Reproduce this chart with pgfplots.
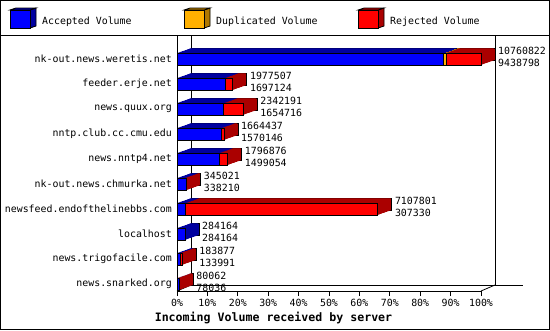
\documentclass[border=0pt]{standalone}
\usepackage{pgfplots}
\pgfplotsset{compat=1.18}
\usepackage{pgfplotstable}
\usepackage{fontspec}
\setmainfont{DejaVu Sans Mono}
\definecolor{fblue}{RGB}{0,0,255}
\definecolor{dblue}{RGB}{0,0,160}
\definecolor{fred}{RGB}{255,0,0}
\definecolor{dred}{RGB}{170,0,0}
\definecolor{forange}{RGB}{255,176,0}
\definecolor{dorange}{RGB}{176,120,0}

\pgfplotstableread{
y total acc accdup
10 10760822 9438798 9520000
9 1977507 1697124 1697124
8 2342191 1654716 1654716
7 1664437 1570146 1570146
6 1796876 1499054 1499054
5 345021 338210 338210
4 7107801 307330 307330
3 284164 284164 284164
2 183877 133991 133991
1 80062 78036 78036
}\datatable

\newcommand{\lbl}{\fontsize{9.9bp}{11.5bp}\selectfont}
% depth copies: the last segment keeps at least 2px so that it forms the side face
\newcommand{\capacc}{(\thisrow{acc}<\thisrow{total} ? min(\thisrow{acc},\thisrow{total}-71000) : \thisrow{acc})}
\newcommand{\capdup}{(\thisrow{accdup}<\thisrow{total} ? min(\thisrow{accdup},\thisrow{total}-71000) : \thisrow{accdup})}

\pgfplotsset{
  geom/.style={anchor=south west, scale only axis,
    width=304bp, height=255bp, xmin=0, xmax=100, ymin=0.72, ymax=10.92,
    clip=false, bar width=12bp},
  base/.style={geom, xbar stacked},
  copyaxis/.style={base, hide axis, at={(177bp+#1bp, -291bp+#1*5bp/14)}},
}

\begin{document}
\begin{tikzpicture}[x=1bp,y=1bp]
\useasboundingbox (0,0) rectangle (550,-330);
\draw[line width=1bp] (0.5,-0.5) rectangle (549.5,-329.5);
\draw[line width=1bp] (0,-35) -- (550,-35);
% legend
\foreach \xo/\cf/\cd/\txt in {10/fblue/dblue/Accepted Volume,184/forange/dorange/Duplicated Volume,358/fred/dred/Rejected Volume}{
  \filldraw[fill=\cd,draw=black,line width=0.8bp] (\xo+20,-10)--(\xo+26,-8)--(\xo+26,-26)--(\xo+20,-28)--cycle;
  \filldraw[fill=\cd,draw=black,line width=0.8bp] (\xo,-10)--(\xo+6,-8)--(\xo+26,-8)--(\xo+20,-10)--cycle;
  \filldraw[fill=\cf,draw=black,line width=0.8bp] (\xo,-10) rectangle (\xo+20,-28);
  \node[anchor=base west,inner sep=0pt,font=\lbl] at (\xo+32,-24) {\txt};
}
% back wall and floor
\begin{scope}[line width=0.8bp]
\draw (191,-36) -- (191,-285);
\draw (495,-36) -- (495,-285);
\draw (191,-285) -- (523,-285);
\draw (481,-291) -- (495,-285);
\draw (177,-291) -- (191,-285);
\end{scope}
% back-most copy with outline
\begin{axis}[copyaxis=14]
\addplot[fill=dblue, draw=black, line width=0.8bp] table[x expr=\capacc/107608.22, y=y]{\datatable};
\addplot[fill=dorange, draw=none] table[x expr=(\capdup-\capacc)/107608.22, y=y]{\datatable};
\addplot[fill=dred, draw=black, line width=0.8bp] table[x expr=(\thisrow{total}-\capdup)/107608.22, y=y]{\datatable};
\end{axis}
\pgfplotsinvokeforeach{13,12,...,1}{
\begin{axis}[copyaxis=#1]
\addplot[fill=dblue, draw=none] table[x expr=\capacc/107608.22, y=y]{\datatable};
\addplot[fill=dorange, draw=none] table[x expr=(\capdup-\capacc)/107608.22, y=y]{\datatable};
\addplot[fill=dred, draw=none] table[x expr=(\thisrow{total}-\capdup)/107608.22, y=y]{\datatable};
\end{axis}
}
% front faces, axes and labels
\begin{axis}[base, at={(177bp,-291bp)},
  axis x line*=bottom, axis y line*=left,
  axis line style={-, line width=0.8bp},
  xtick={0,10,...,100},
  xticklabels={0\%,10\%,20\%,30\%,40\%,50\%,60\%,70\%,80\%,90\%,100\%},
  ytick={1,...,10},
  yticklabels={news.snarked.org,news.trigofacile.com,localhost,newsfeed.endofthelinebbs.com,nk-out.news.chmurka.net,news.nntp4.net,nntp.club.cc.cmu.edu,news.quux.org,feeder.erje.net,nk-out.news.weretis.net},
  tick align=outside, major tick length=5bp,
  xtick style={line width=0.8bp, black},
  ytick style={draw=none},
  ticklabel style={font=\lbl},
  yticklabel style={inner sep=0pt},
]
\addplot[fill=fblue, draw=black, line width=0.8bp] table[x expr=\thisrow{acc}/107608.22, y=y]{\datatable};
\addplot[fill=forange, draw=black, line width=0.8bp] table[x expr=(\thisrow{accdup}-\thisrow{acc})/107608.22, y=y]{\datatable};
\addplot[fill=fred, draw=black, line width=0.8bp] table[x expr=(\thisrow{total}-\thisrow{accdup})/107608.22, y=y]{\datatable};
\end{axis}
% value labels
\begin{axis}[geom, hide axis, at={(177bp,-291bp)}]
\addplot[xbar, bar shift=0pt, fill=none, draw=none,
  point meta=explicit symbolic, nodes near coords,
  every node near coord/.append style={anchor=west, inner sep=0pt, xshift=17bp, yshift=8bp, font=\lbl, text=black, fill=none, draw=none}]
  table[x expr=\thisrow{total}/107608.22, y=y, meta=total]{\datatable};
\addplot[xbar, bar shift=0pt, fill=none, draw=none,
  point meta=explicit symbolic, nodes near coords,
  every node near coord/.append style={anchor=west, inner sep=0pt, xshift=17bp, yshift=-3.5bp, font=\lbl, text=black, fill=none, draw=none}]
  table[x expr=\thisrow{total}/107608.22, y=y, meta=acc]{\datatable};
\end{axis}
\node[anchor=base,inner sep=0pt,font=\fontsize{11.6bp}{13bp}\selectfont\bfseries] at (273.5,-321) {Incoming Volume received by server};
\end{tikzpicture}
\end{document}
